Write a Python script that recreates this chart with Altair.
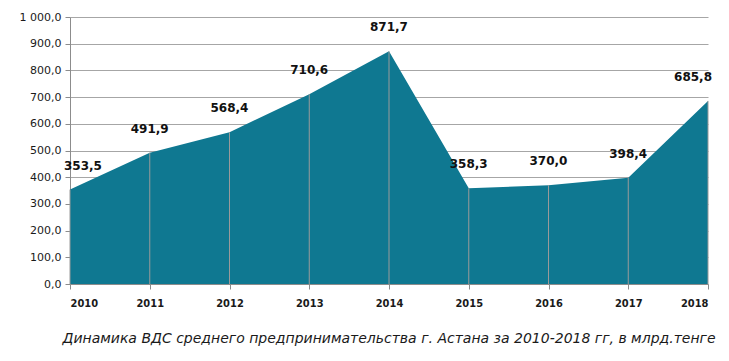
import altair as alt
import pandas as pd

years = [2010, 2011, 2012, 2013, 2014, 2015, 2016, 2017, 2018]
values = [353.5, 491.9, 568.4, 710.6, 871.7, 358.3, 370.0, 398.4, 685.8]
labels = ["353,5", "491,9", "568,4", "710,6", "871,7", "358,3", "370,0", "398,4", "685,8"]
y_ticks = [0, 100, 200, 300, 400, 500, 600, 700, 800, 900, 1000]
title_text = "Динамика ВДС среднего  предпринимательства  г. Астана за 2010-2018  гг, в млрд.тенге"

df = pd.DataFrame({"year": years, "value": values, "label": labels})

xs = alt.X("year:Q", scale=alt.Scale(domain=[2010, 2018], nice=False),
           axis=alt.Axis(values=years, format="d", title=None, grid=False,
                         labelFont="DejaVu Sans Condensed", labelFontSize=11, labelFontWeight="bold",
                         labelColor="#1a1a1a", labelPadding=8, tickSize=5, labelOverlap=False,
                         domainColor="#8c8c8c", tickColor="#8c8c8c"))
ys = alt.Y("value:Q", scale=alt.Scale(domain=[0, 1000], nice=False),
           axis=alt.Axis(values=y_ticks,
                         labelExpr="replace(replace(format(datum.value, ',.1f'), ',', ' '), '.', ',')",
                         title=None, grid=True, gridColor="#a6a6a6", labelOverlap=False,
                         labelFont="DejaVu Sans", labelFontSize=11, labelColor="#1a1a1a",
                         labelPadding=4, tickSize=5, domainColor="#8c8c8c", tickColor="#8c8c8c"))

base = alt.Chart(df)
area = base.mark_area(color="#0f7891", opacity=1).encode(x=xs, y=ys)
rules = base.transform_calculate(zero="0").mark_rule(color="#9a9a9a", strokeWidth=1).encode(
    x=xs, y=ys, y2="zero:Q")

txt_props = dict(fontWeight="bold", fontSize=12, font="DejaVu Sans", color="#111111", dy=-24)
mid = base.transform_filter("datum.year > 2010 && datum.year < 2018").mark_text(
    align="center", **txt_props).encode(x=xs, y=ys, text="label:N")
first = base.transform_filter("datum.year == 2010").mark_text(
    align="left", dx=-6, **txt_props).encode(x=xs, y=ys, text="label:N")
last = base.transform_filter("datum.year == 2018").mark_text(
    align="right", dx=4, **txt_props).encode(x=xs, y=ys, text="label:N")

chart = alt.layer(area, rules, mid, first, last).properties(
    width=638, height=267,
    autosize=alt.AutoSizeParams(type="none"),
    padding={"left": 62, "top": 9, "right": 13, "bottom": 76},
    title=alt.TitleParams(title_text, orient="bottom", fontStyle="italic",
                          fontWeight="normal", fontSize=14, font="DejaVu Sans",
                          color="#1a1a1a", offset=24, anchor="middle"),
).configure_view(stroke=None)

chart.save("out.html", embed_options={"renderer": "svg", "actions": False})
